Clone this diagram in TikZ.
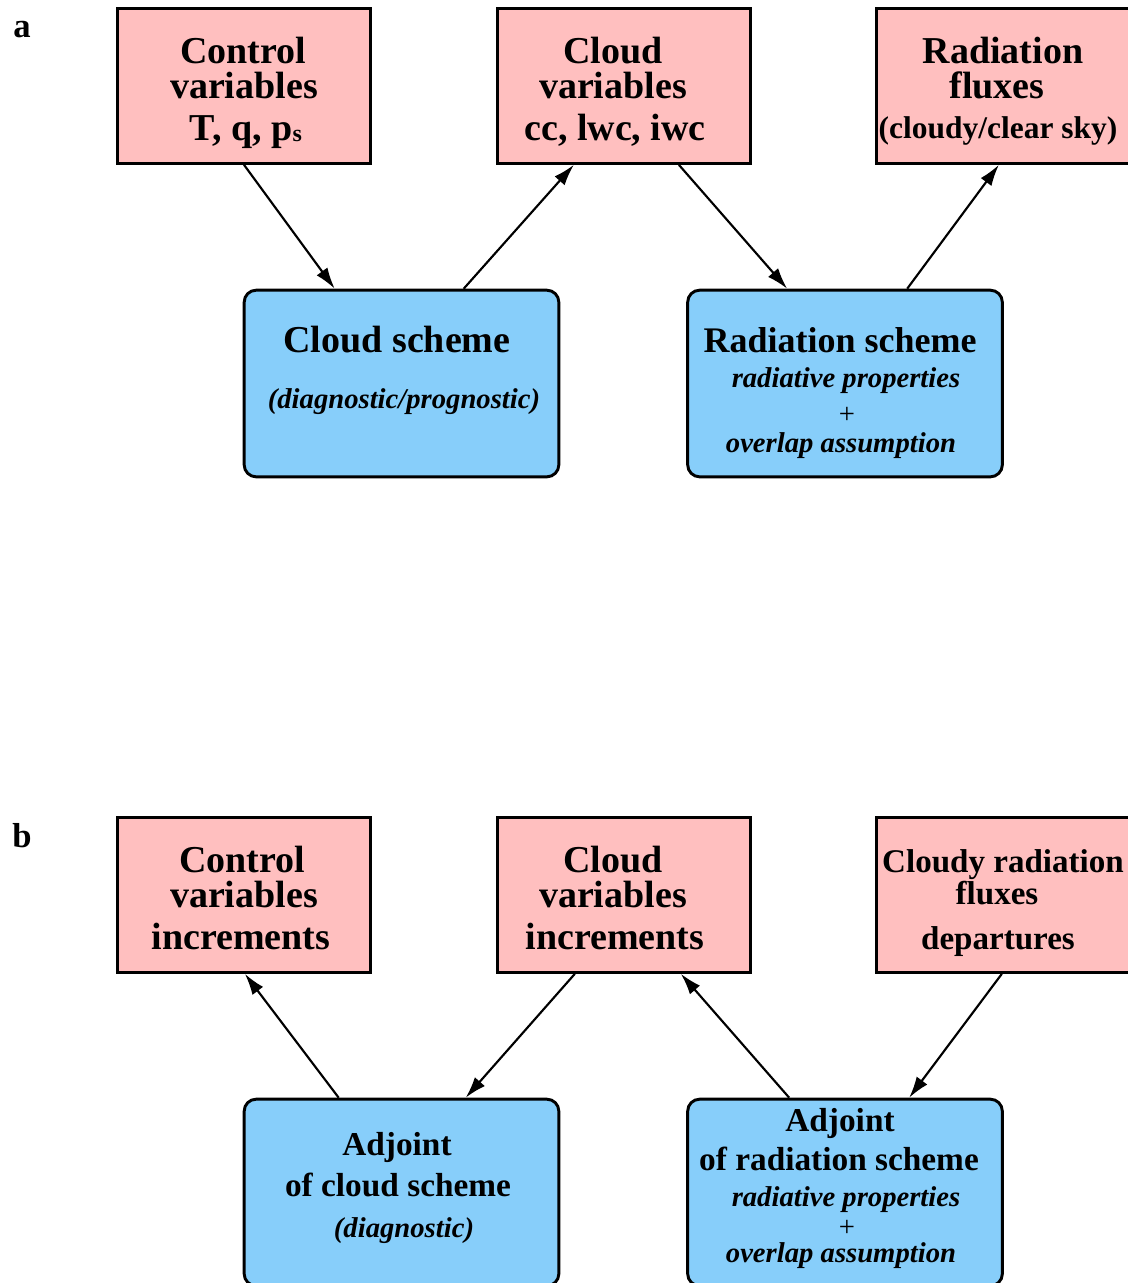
\documentclass[tikz,border=0pt]{standalone}
\usepackage{fontspec}
\setmainfont{Liberation Serif}
\usetikzlibrary{arrows.meta,calc}
\definecolor{pinkfill}{RGB}{255,191,191}
\definecolor{bluefill}{RGB}{135,206,250}
\begin{document}
\begin{tikzpicture}[x=0.75pt,y=-0.75pt,
  pinkbox/.style={draw=black,line width=2.2pt,fill=pinkfill,inner sep=0pt,minimum width=190pt,minimum height=116pt},
  bluebox/.style={draw=black,line width=2.2pt,fill=bluefill,rounded corners=9pt,inner sep=0pt,minimum width=236pt,minimum height=140pt},
  big/.style={inner sep=0pt,anchor=base,font=\fontsize{28.5}{28.5}\selectfont\bfseries},
  rad/.style={inner sep=0pt,anchor=base,font=\fontsize{27}{27}\selectfont\bfseries},
  adj/.style={inner sep=0pt,anchor=base,font=\fontsize{25}{25}\selectfont\bfseries},
  mid/.style={inner sep=0pt,anchor=base,font=\fontsize{23.6}{24}\selectfont\bfseries},
  midb/.style={inner sep=0pt,anchor=base,font=\fontsize{24.8}{25}\selectfont\bfseries},
  ital/.style={inner sep=0pt,anchor=base,font=\fontsize{21.5}{21.5}\selectfont\bfseries\itshape},
  plain/.style={inner sep=0pt,anchor=center,font=\fontsize{21.5}{21.5}\selectfont},
  panel/.style={inner sep=0pt,anchor=base,font=\fontsize{26}{26}\selectfont\bfseries},
  arr/.style={line width=1.6pt,-{Latex[length=16pt,width=10pt]}}]
\useasboundingbox (0,0) rectangle (1128,1283);
\clip (0,0) rectangle (1128,1283);
\fill[white] (0,0) rectangle (1128,1283);

% ---------- panel a ----------
\node[panel] (la) at (22,37) {a};
\node[pinkbox] (ctrl) at (244,86) {};
\node[pinkbox] (cv) at (624,86) {};
\node[pinkbox] (rf) at (1003,86) {};
\node[bluebox] (cs) at (401.5,383.5) {};
\node[bluebox] (rs) at (845,383.5) {};

\node[big] (t1) at (243,63) {Control};
\node[big] (t2) at (244,98) {variables};
\node[big] (t3) at (246,140) {T, q, p\raisebox{-1pt}{\fontsize{18}{18}\selectfont s}};

\node[big] (t4) at (613,63) {Cloud};
\node[big] (t5) at (613,98) {variables};
\node[big] (t6) at (615,140) {cc, lwc, iwc};

\node[big] (t7) at (1003,63) {Radiation};
\node[big] (t8) at (997,98) {fluxes};
\node[mid] (t9) at (998,138) {(cloudy/clear sky)};

\node[big] (t10) at (397,352) {Cloud scheme};
\node[ital] (t11) at (404,408) {(diagnostic/prognostic)};

\node[rad] (t12) at (840,352) {Radiation scheme};
\node[ital] (t13) at (846,387) {radiative properties};
\node[plain] (t14) at (847,415) {+};
\node[ital] (t15) at (841,452) {overlap assumption};

\draw[arr] (ctrl.south) -- ($(cs.north west)+(92,0)$);
\draw[arr] ($(cs.north west)+(221,0)$) -- ($(cv.south west)+(78,0)$);
\draw[arr] ($(cv.south west)+(183,0)$) -- ($(rs.north west)+(101,0)$);
\draw[arr] ($(rs.north west)+(221,0)$) -- ($(rf.south west)+(124,0)$);

% ---------- panel b ----------
\node[panel] (lb) at (22,847) {b};
\node[pinkbox] (ci) at (244,895) {};
\node[pinkbox] (cvi) at (624,895) {};
\node[pinkbox] (crf) at (1003,895) {};
\node[bluebox] (acs) at (401.5,1192.5) {};
\node[bluebox] (ars) at (845,1192.5) {};

\node[big] (u1) at (242,872) {Control};
\node[big] (u2) at (244,907) {variables};
\node[big] (u3) at (241,949) {increments};

\node[big] (u4) at (613,872) {Cloud};
\node[big] (u5) at (613,907) {variables};
\node[big] (u6) at (615,949) {increments};

\node[midb] (u7) at (1003,872) {Cloudy radiation};
\node[midb] (u8) at (997,904) {fluxes};
\node[midb] (u9) at (998,949) {departures};

\node[adj] (u10) at (397,1155) {Adjoint};
\node[adj] (u11) at (398,1196) {of cloud scheme};
\node[ital] (u12) at (404,1237) {(diagnostic)};

\node[adj] (u13) at (840,1131) {Adjoint};
\node[adj] (u14) at (839,1170) {of radiation scheme};
\node[ital] (u15) at (846,1206) {radiative properties};
\node[plain] (u16) at (847,1228) {+};
\node[ital] (u17) at (841,1262) {overlap assumption};

\draw[arr] ($(acs.north west)+(96,0)$) -- ($(ci.south west)+(129,0)$);
\draw[arr] ($(cvi.south west)+(79,0)$) -- ($(acs.north west)+(223,0)$);
\draw[arr] ($(ars.north west)+(103,0)$) -- ($(cvi.south west)+(185,0)$);
\draw[arr] ($(crf.south west)+(127,0)$) -- ($(ars.north west)+(223,0)$);
\end{tikzpicture}
\end{document}
